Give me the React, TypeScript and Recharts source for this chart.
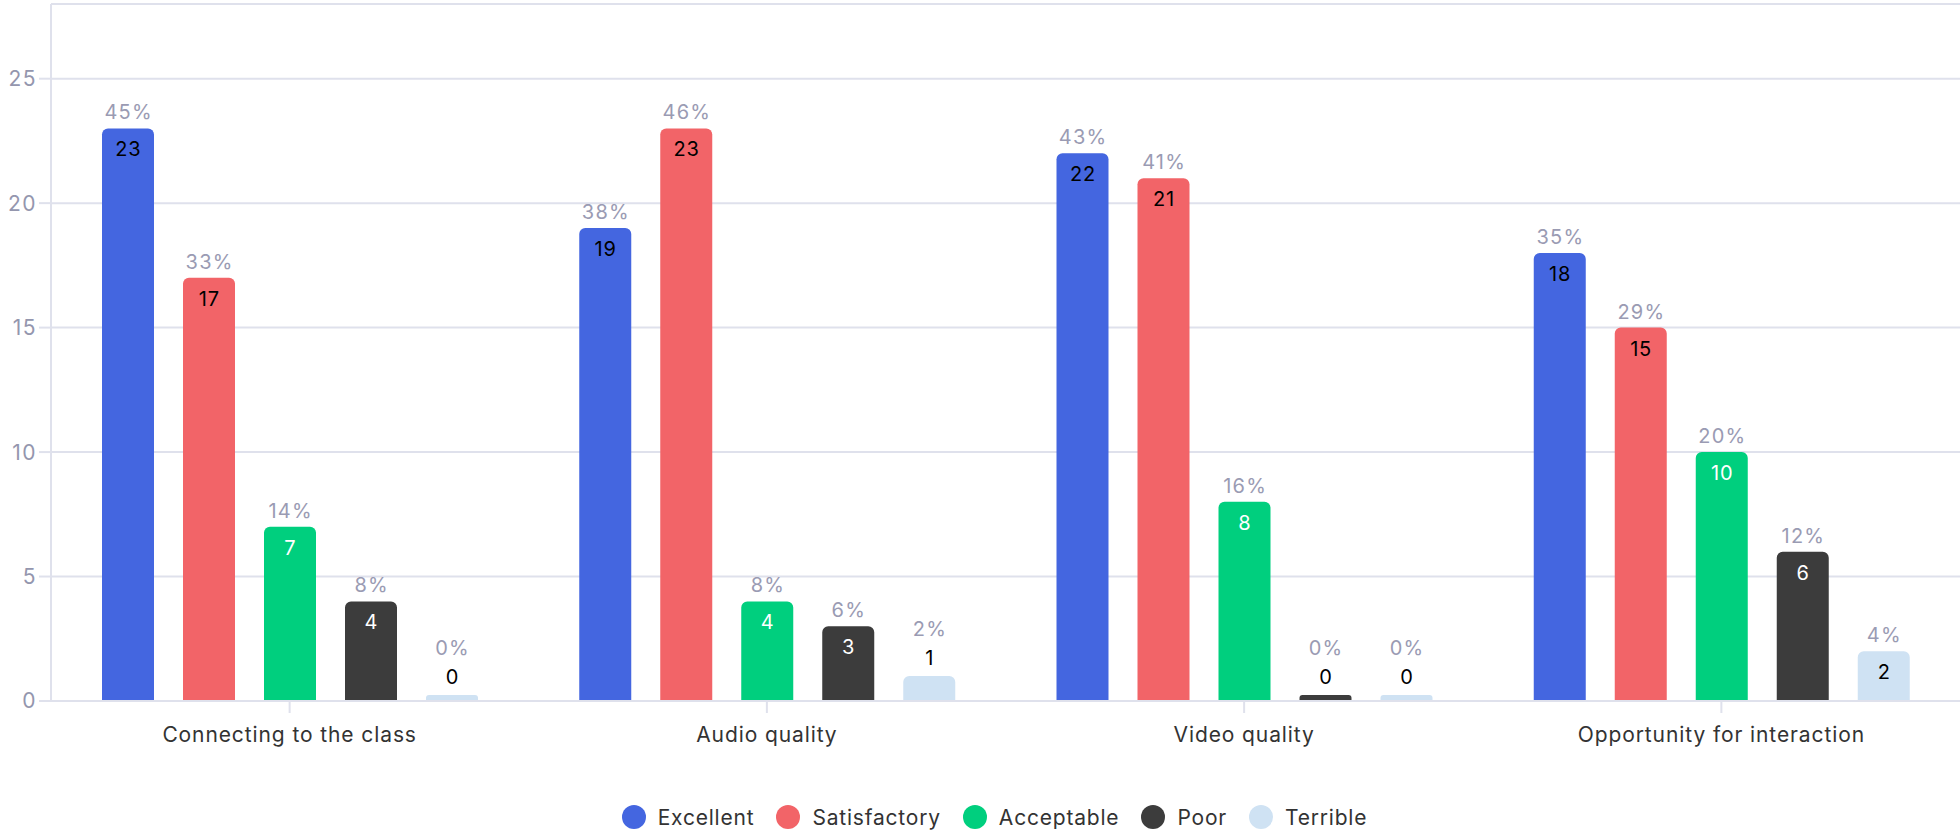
import React from "react"
import {
  BarChart,
  Bar,
  XAxis,
  YAxis,
  CartesianGrid,
  Legend,
  LabelList,
  ReferenceLine,
} from "recharts"

const CATEGORIES = [
  "Connecting to the class",
  "Audio quality",
  "Video quality",
  "Opportunity for interaction",
]

const EXCELLENT = [23, 19, 22, 18]
const SATISFACTORY = [17, 23, 21, 15]
const ACCEPTABLE = [7, 4, 8, 10]
const POOR = [4, 3, 0, 6]
const TERRIBLE = [0, 1, 0, 2]

const EXCELLENT_PCT = [45, 38, 43, 35]
const SATISFACTORY_PCT = [33, 46, 41, 29]
const ACCEPTABLE_PCT = [14, 8, 16, 20]
const POOR_PCT = [8, 6, 0, 12]
const TERRIBLE_PCT = [0, 2, 0, 4]

const Y_TICKS = [0, 5, 10, 15, 20, 25]

const GRID = "#dfe1ec"

const SERIES = [
  { key: "Excellent", values: EXCELLENT, pct: EXCELLENT_PCT, color: "#4466e0", text: "#000000" },
  { key: "Satisfactory", values: SATISFACTORY, pct: SATISFACTORY_PCT, color: "#f26468", text: "#000000" },
  { key: "Acceptable", values: ACCEPTABLE, pct: ACCEPTABLE_PCT, color: "#00cf7e", text: "#ffffff" },
  { key: "Poor", values: POOR, pct: POOR_PCT, color: "#3c3c3c", text: "#ffffff" },
  { key: "Terrible", values: TERRIBLE, pct: TERRIBLE_PCT, color: "#cfe2f3", text: "#000000" },
]

const data = CATEGORIES.map((name, i) => {
  const row: Record<string, string | number> = { name }
  SERIES.forEach((s) => {
    row[s.key] = s.values[i]
  })
  return row
})

// value inside the top of the bar, percentage above it; short bars get both above
function makeLabel(series: (typeof SERIES)[number]) {
  return (props: any) => {
    const { x, y, width, height, index } = props
    const cx = Number(x) + Number(width) / 2
    const top = Number(y)
    const inside = Number(height) >= 35
    const valueY = inside ? top + 21 : top - 18
    const pctY = inside ? top - 16 : top - 47
    return (
      <g>
        <text
          x={cx + 0.6}
          y={pctY}
          textAnchor="middle"
          dominantBaseline="central"
          fill="#9a9bb3"
          fontSize={20}
          letterSpacing={1.2}
        >
          {series.pct[index]}%
        </text>
        <text
          x={cx + 0.4}
          y={valueY}
          textAnchor="middle"
          dominantBaseline="central"
          fill={inside ? series.text : "#000000"}
          fontSize={20}
          letterSpacing={0.8}
        >
          {series.values[index]}
        </text>
      </g>
    )
  }
}

function LegendContent() {
  return (
    <div
      style={{
        height: 34,
        display: "flex",
        justifyContent: "center",
        alignItems: "center",
        paddingLeft: 51,
        fontSize: 21,
        letterSpacing: 0.8,
        color: "#333333",
      }}
    >
      {SERIES.map((s) => (
        <div key={s.key} style={{ display: "flex", alignItems: "center", marginRight: 22 }}>
          <span
            style={{
              width: 24,
              height: 24,
              borderRadius: 12,
              background: s.color,
              display: "inline-block",
              marginRight: 12,
            }}
          />
          <span>{s.key}</span>
        </div>
      ))}
    </div>
  )
}

export default function App() {
  return (
    <div style={{ fontFamily: "Inter, sans-serif", width: 1960, height: 834 }}>
      <style>{`body{margin:0}`}</style>
      <BarChart
        width={1960}
        height={834}
        data={data}
        margin={{ top: 4, right: 0, left: 0, bottom: 0 }}
        barSize={52}
        barGap={29}
      >
        <CartesianGrid vertical={false} stroke={GRID} strokeWidth={2} />
        <ReferenceLine y={28} stroke={GRID} strokeWidth={2} />
        <XAxis
          dataKey="name"
          height={99}
          tickSize={12}
          tickMargin={14}
          axisLine={{ stroke: GRID, strokeWidth: 2 }}
          tickLine={{ stroke: GRID, strokeWidth: 2 }}
          tick={{ fill: "#333333", fontSize: 21, letterSpacing: 0.9 }}
        />
        <YAxis
          width={51}
          domain={[0, 28]}
          ticks={Y_TICKS}
          tickSize={12}
          tickMargin={2}
          axisLine={{ stroke: GRID, strokeWidth: 2 }}
          tickLine={{ stroke: GRID, strokeWidth: 2 }}
          tick={{ fill: "#9496ae", fontSize: 21, letterSpacing: 1.5 }}
        />
        <Legend verticalAlign="bottom" content={<LegendContent />} wrapperStyle={{ height: 34 }} />
        {SERIES.map((s) => (
          <Bar
            key={s.key}
            dataKey={s.key}
            fill={s.color}
            radius={[6, 6, 0, 0]}
            minPointSize={6}
            isAnimationActive={false}
          >
            <LabelList dataKey={s.key} content={makeLabel(s)} />
          </Bar>
        ))}
      </BarChart>
    </div>
  )
}
